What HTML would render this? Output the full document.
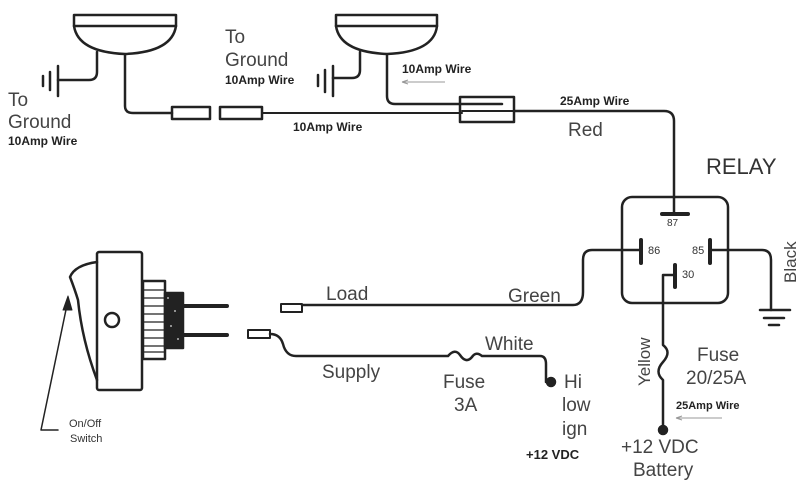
<!DOCTYPE html>
<html><head><meta charset="utf-8"><style>
html,body{margin:0;padding:0;background:#fff;}
svg{display:block;}
text{font-family:"Liberation Sans",sans-serif;fill:#333;}
.b{font-weight:bold;font-size:12px;fill:#222;}
.l{font-size:19px;fill:#444;}
</style></head><body>
<svg width="800" height="485" viewBox="0 0 800 485" xmlns="http://www.w3.org/2000/svg">
<g fill="none" stroke="#222" stroke-width="2.5" stroke-linecap="round" stroke-linejoin="round">
<!-- lamp 1 -->
<rect x="74" y="15" width="102" height="11" fill="#fff"/>
<path d="M74 26 Q78 52 125 54 Q172 52 176 26"/>
<path d="M97 52 V72 Q97 80 89 80 H58"/>
<path d="M58 66 V96 M50 72 V90 M43 76 V86"/>
<path d="M125 55 V106 Q125 113 133 113 H172"/>
<rect x="172" y="107" width="38" height="12"/>
<rect x="220" y="107" width="42" height="12"/>
<path d="M262 113 H462" stroke-width="2"/>
<path d="M514 111 H664 Q674 111 674 121 V212"/>
<!-- lamp 2 -->
<rect x="336" y="15" width="101" height="11" fill="#fff"/>
<path d="M336 26 Q340 52 387 54 Q434 52 437 26"/>
<path d="M360 52 V70 Q360 78 352 78 H333"/>
<path d="M333 66 V96 M325 70 V92 M318 75 V86"/>
<path d="M387 55 V96 Q387 104 395 104 H502"/>
<rect x="460" y="97" width="54" height="25"/>
<path d="M462 111 H514" stroke-width="2"/>
<!-- relay -->
<rect x="622" y="197" width="106" height="106" rx="10"/>
<path d="M662 214 H688" stroke-width="4"/>
<path d="M641 240 V263" stroke-width="4"/>
<path d="M710 240 V263" stroke-width="4"/>
<path d="M675 265 V287" stroke-width="4"/>
<path d="M641 250 H592 Q583 250 583 260 V292 Q583 305 573 305 H302"/>
<path d="M710 250 H762 Q771 250 771 260 V310"/>
<path d="M760 310 H790 M764 318 H784 M769 325 H779"/>
<path d="M675 275 H663 V345 Q672 352 663 362 Q654 372 663 380 V430"/>
<circle cx="663" cy="430" r="4" fill="#222"/>
<!-- switch -->
<rect x="97" y="252" width="45" height="138" rx="2"/>
<path d="M97 262 Q75 265 70 277 Q75 290 78 300 Q82 340 97 380"/>
<circle cx="112" cy="320" r="7"/>
<rect x="143" y="281" width="22" height="78"/>
<path d="M143 290 H165 M143 298 H165 M143 306 H165 M143 314 H165 M143 322 H165 M143 330 H165 M143 338 H165 M143 346 H165 M143 352 H165" stroke-width="1.2"/>
<rect x="165" y="293" width="18" height="55" fill="#222"/>
<path d="M183 306 H227 M183 335 H227" stroke-width="4"/>
<rect x="281" y="304" width="21" height="8" stroke-width="2"/>
<rect x="248" y="330" width="22" height="8" stroke-width="2"/>
<path d="M270 334 Q280 334 283 344 Q286 356 296 356 H448 Q455 348 460 355 Q466 364 472 357 Q476 351 482 356 H540 Q546 356 546 364 V382"/>
<circle cx="551" cy="382" r="4" fill="#222"/>
<path d="M41 430 L68 300 M41 430 H58" stroke-width="1.5"/>
<path d="M68 296 L63 310 L72 310 Z" fill="#222" stroke-width="1"/>
</g>
<path d="M402 82 H445 M402 82 L408 80 M402 82 L408 84" stroke="#999" stroke-width="1" fill="none"/>
<path d="M676 418 H722 M676 418 L682 416 M676 418 L682 420" stroke="#999" stroke-width="1" fill="none"/>
<g fill="#fff" opacity="0.5"><rect x="167" y="297" width="2" height="2"/><rect x="174" y="310" width="2" height="2"/><rect x="170" y="325" width="2" height="2"/><rect x="177" y="338" width="2" height="2"/></g>
<text x="8" y="106" class="l">To</text>
<text x="8" y="128" class="l">Ground</text>
<text x="8" y="145" class="b">10Amp Wire</text>
<text x="225" y="43" class="l">To</text>
<text x="225" y="66" class="l">Ground</text>
<text x="225" y="84" class="b">10Amp Wire</text>
<text x="293" y="131" class="b">10Amp Wire</text>
<text x="402" y="73" class="b">10Amp Wire</text>
<text x="560" y="105" class="b">25Amp Wire</text>
<text x="568" y="136" class="l">Red</text>
<text x="706" y="174" style="font-size:22px">RELAY</text>
<text x="667" y="226" style="font-size:10px">87</text>
<text x="648" y="254" style="font-size:11px">86</text>
<text x="692" y="254" style="font-size:11px">85</text>
<text x="682" y="278" style="font-size:11px">30</text>
<text transform="translate(796,283) rotate(-90)" class="l" style="font-size:17px">Black</text>
<text transform="translate(650,386) rotate(-90)" class="l" style="font-size:17px">Yellow</text>
<text x="697" y="361" class="l">Fuse</text>
<text x="686" y="384" class="l">20/25A</text>
<text x="676" y="409" class="b" style="font-size:11px">25Amp Wire</text>
<text x="621" y="453" class="l">+12 VDC</text>
<text x="633" y="476" class="l">Battery</text>
<text x="326" y="300" class="l">Load</text>
<text x="508" y="302" class="l">Green</text>
<text x="322" y="378" class="l">Supply</text>
<text x="485" y="350" class="l">White</text>
<text x="443" y="388" class="l">Fuse</text>
<text x="454" y="411" class="l">3A</text>
<text x="564" y="388" class="l">Hi</text>
<text x="562" y="411" class="l">low</text>
<text x="562" y="435" class="l">ign</text>
<text x="526" y="459" class="b" style="font-size:13px">+12 VDC</text>
<text x="69" y="427" style="font-size:11px">On/Off</text>
<text x="70" y="442" style="font-size:11px">Switch</text>
</svg>
</body></html>
